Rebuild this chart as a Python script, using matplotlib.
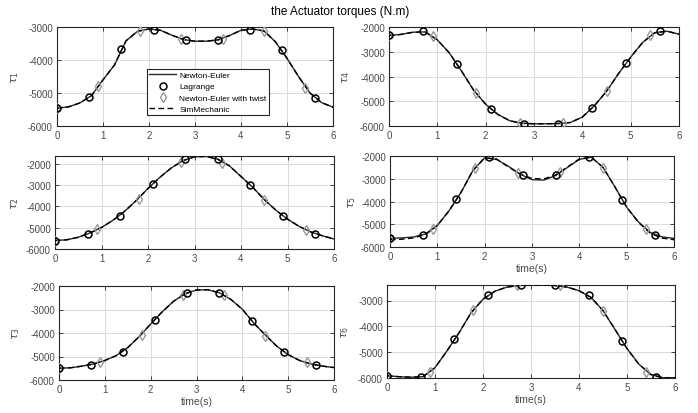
import matplotlib
matplotlib.use("Agg")
import matplotlib.pyplot as plt

plt.rcParams['font.family'] = ['Liberation Sans', 'DejaVu Sans']
plt.rcParams['mathtext.fontset'] = 'dejavusans'
plt.rcParams['axes.unicode_minus'] = False

# sample times
t_curve = [0.0, 0.25, 0.5, 0.75, 1.0, 1.25, 1.5, 1.75, 2.0, 2.25, 2.5, 2.75, 3.0,
           3.25, 3.5, 3.75, 4.0, 4.25, 4.5, 4.75, 5.0, 5.25, 5.5, 5.75, 6.0]
t_lagrange = [0.0, 0.7, 1.4, 2.1, 2.8, 3.5, 4.2, 4.9, 5.6]
t_twist = [0.0, 0.9, 1.8, 2.7, 3.6, 4.5, 5.4]

# joint 1
ne_tau1 = [-5460, -5420, -5300, -5080, -4600, -4150, -3420, -3130, -3060, -3100, -3250, -3380, -3430,
           -3430, -3390, -3260, -3100, -3060, -3120, -3450, -3950, -4500, -5000, -5290, -5430]
lag_tau1 = [-5465, -5121, -3657, -3081, -3394, -3394, -3081, -3687, -5151]
twist_tau1 = [-5465, -4788, -3121, -3354, -3374, -3111, -4838]
sim_tau1 = ne_tau1

# joint 2
ne_tau2 = [-5600, -5570, -5450, -5250, -4990, -4650, -4230, -3720, -3160, -2650, -2200, -1860, -1680,
           -1660, -1790, -2100, -2600, -3100, -3680, -4180, -4600, -4940, -5200, -5380, -5530]
lag_tau2 = [-5608, -5278, -4431, -2973, -1796, -1796, -3004, -4447, -5294]
twist_tau2 = [-5608, -5059, -3663, -1922, -1953, -3694, -5090]
sim_tau2 = ne_tau2

# joint 3
ne_tau3 = [-5500, -5480, -5410, -5320, -5170, -4960, -4620, -4150, -3620, -3100, -2650, -2330, -2170,
           -2160, -2290, -2570, -2990, -3580, -4080, -4560, -4920, -5170, -5320, -5410, -5470]
lag_tau3 = [-5502, -5345, -4790, -3438, -2285, -2285, -3480, -4804, -5345]
twist_tau3 = [-5502, -5231, -4078, -2370, -2384, -4107, -5246]
sim_tau3 = ne_tau3

# joint 4
ne_tau4 = [-2340, -2300, -2210, -2200, -2520, -3050, -3780, -4550, -5120, -5530, -5790, -5890, -5910,
           -5910, -5900, -5860, -5640, -5180, -4600, -3880, -3220, -2620, -2230, -2170, -2290]
lag_tau4 = [-2338, -2176, -3514, -5297, -5905, -5905, -5270, -3473, -2176]
twist_tau4 = [-2338, -2351, -4662, -5865, -5892, -4595, -2311]
sim_tau4 = ne_tau4

# joint 5
ne_tau5 = [-5620, -5600, -5560, -5430, -5050, -4400, -3600, -2640, -2080, -2150, -2450, -2800, -3040,
           -3060, -2860, -2500, -2150, -2050, -2500, -3350, -4250, -4900, -5360, -5560, -5620]
lag_tau5 = [-5604, -5458, -3875, -2044, -2850, -2820, -2044, -3919, -5472]
twist_tau5 = [-5600, -5223, -2513, -2733, -2703, -2513, -5194]
sim_tau5 = [-5680, -5660, -5600, -5450, -5060, -4400, -3600, -2640, -2080, -2130, -2480, -2790, -2990,
            -3010, -2830, -2480, -2130, -2050, -2500, -3350, -4250, -4920, -5400, -5610, -5680]

# joint 6
ne_tau6 = [-5910, -5950, -5970, -5950, -5600, -4950, -4250, -3480, -2950, -2640, -2480, -2420, -2400,
           -2400, -2420, -2480, -2620, -2880, -3390, -4120, -4860, -5470, -5870, -5990, -5990]
lag_tau6 = [-5910, -5961, -4500, -2780, -2418, -2418, -2806, -4552, -5961]
twist_tau6 = [-5910, -5754, -3362, -2418, -2418, -3388, -5780]
sim_tau6 = ne_tau6

W, H = 698, 414
fig = plt.figure(figsize=(W / 100, H / 100), dpi=100)

# (name, ne, lagrange, twist, sim, box px (x0, y0, x1, y1), ylim, yticks, label x px, xlabel)
panels = [
    (1, ne_tau1, lag_tau1, twist_tau1, sim_tau1, (57, 28, 333, 127), (-6000, -3000),
     [-6000, -5000, -4000, -3000], 21, False),
    (2, ne_tau2, lag_tau2, twist_tau2, sim_tau2, (55, 157, 334, 250), (-6000, -1640),
     [-6000, -5000, -4000, -3000, -2000], 21, False),
    (3, ne_tau3, lag_tau3, twist_tau3, sim_tau3, (59, 287, 334, 381), (-6000, -2000),
     [-6000, -5000, -4000, -3000, -2000], 22, True),
    (4, ne_tau4, lag_tau4, twist_tau4, sim_tau4, (389, 28, 679, 127), (-6000, -2000),
     [-6000, -5000, -4000, -3000, -2000], 352, False),
    (5, ne_tau5, lag_tau5, twist_tau5, sim_tau5, (390, 157, 674, 248), (-6000, -2000),
     [-6000, -5000, -4000, -3000, -2000], 358, True),
    (6, ne_tau6, lag_tau6, twist_tau6, sim_tau6, (387, 286, 675, 379), (-6000, -2400),
     [-6000, -5000, -4000, -3000], 351, True),
]

tick_color = '#4a4a4a'

for idx, ne, lag, twist, sim, box, ylim, yticks, lab_x, has_xlabel in panels:
    x0, y0, x1, y1 = box
    ax = fig.add_axes([x0 / W, 1 - y1 / H, (x1 - x0) / W, (y1 - y0) / H])

    ax.plot(t_curve, ne, color='#2a2a2a', lw=1.0, label='Newton-Euler', zorder=3)
    ax.plot(t_lagrange, lag, 'o', mfc='none', mec='black', mew=1.1, ms=5,
            label='Lagrange', zorder=5)
    ax.plot(t_twist, twist, 'd', mfc='none', mec='#999999', mew=1.0, ms=5.5,
            label='Newton-Euler with twist', zorder=4)
    ax.plot(t_curve, sim, '--', color='black', lw=1.0, dashes=(4, 2.5),
            label='SimMechanic', zorder=3)

    ax.set_xlim(0, 6)
    ax.set_ylim(*ylim)
    ax.set_xticks(range(7))
    ax.set_yticks(yticks)
    ax.grid(True, color='#dcdcdc', lw=0.8)
    ax.set_axisbelow(True)
    ax.tick_params(direction='in', length=3, width=0.6, top=True, right=True,
                   labelsize=7, colors='#262626', labelcolor=tick_color, pad=3)
    for sp in ax.spines.values():
        sp.set_color('#262626')
        sp.set_linewidth(0.8)

    ax.set_ylabel(r'$\tau_{%d}$' % idx, fontsize=8, color=tick_color)
    ax.yaxis.set_label_coords((lab_x - x0) / (x1 - x0), 0.5)
    if has_xlabel:
        ax.set_xlabel('time(s)', fontsize=7.5, color=tick_color, labelpad=1)

    if idx == 1:
        leg = ax.legend(loc='upper left', bbox_to_anchor=(0.326, 0.576), borderaxespad=0,
                        fontsize=6, handlelength=3.2, labelspacing=0.4, borderpad=0.3,
                        handletextpad=0.4, fancybox=False, framealpha=1)
        leg.get_frame().set_edgecolor('#262626')
        leg.get_frame().set_linewidth(0.8)

fig.text(340 / W, 1 - 12 / H, 'the Actuator torques (N.m)', ha='center', va='center',
         fontsize=8.5, color='black')

fig.savefig('out.png', dpi=100)
